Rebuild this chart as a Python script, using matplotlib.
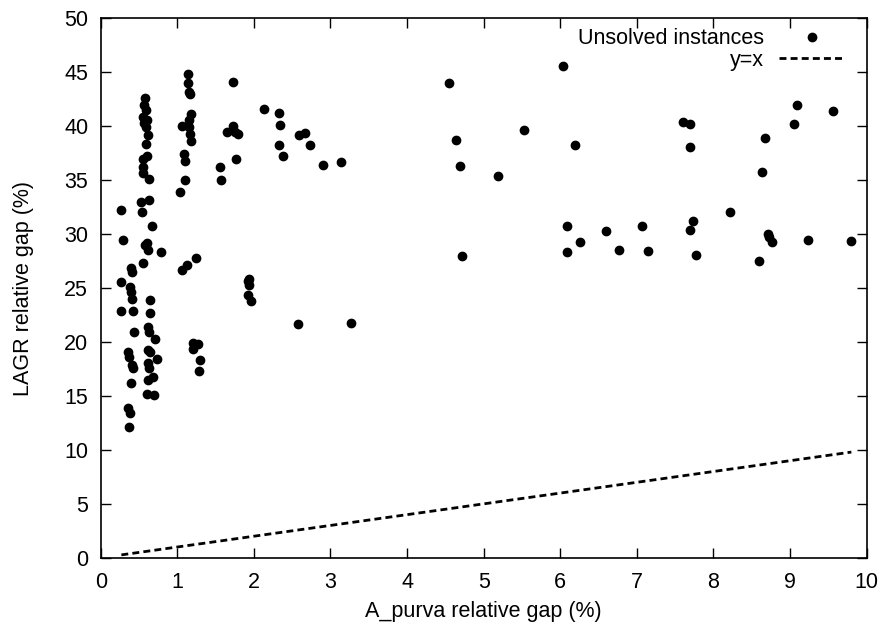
import matplotlib
matplotlib.use("Agg")
import matplotlib.pyplot as plt
import numpy as np

plt.rcParams['font.family'] = ['Liberation Sans', 'DejaVu Sans']

# unsolved instances: A_purva gap (x) vs LAGR gap (y), in %
apurva_gap = [
    0.27, 0.29, 0.27, 0.27, 0.40, 0.41, 0.38, 0.40, 0.41, 0.42,
    0.43, 0.36, 0.37, 0.41, 0.42, 0.40, 0.36, 0.38, 0.37,
    0.58, 0.57, 0.59, 0.55, 0.60, 0.57, 0.59, 0.62, 0.59, 0.55,
    0.60, 0.55, 0.55, 0.63, 0.53, 0.54, 0.63, 0.67, 0.60, 0.58,
    0.62, 0.55, 0.64, 0.64, 0.62, 0.63, 0.71, 0.62, 0.64, 0.73,
    0.62, 0.63, 0.68, 0.62, 0.60, 0.70, 0.79,
    1.14, 1.14, 1.15, 1.17, 1.18, 1.15, 1.06, 1.15, 1.17, 1.18,
    1.09, 1.10, 1.10, 1.04, 1.24, 1.13, 1.06, 1.20, 1.27, 1.20,
    1.30, 1.28,
    1.73, 1.65, 1.73, 1.75, 1.79, 1.77, 1.56, 1.57, 2.13, 1.94,
    1.92, 1.94, 1.92, 1.96,
    2.33, 2.34, 2.33, 2.38, 2.59, 2.67, 2.73, 2.90, 3.14, 2.58, 3.27,
    4.55, 6.04, 4.64, 5.53, 4.69, 6.19, 5.19, 4.72, 6.09, 6.26,
    6.09, 6.60, 6.77, 7.07, 7.15, 7.60, 7.69, 7.69, 7.73, 7.69,
    7.77, 8.22, 8.67, 8.63, 9.09, 9.05, 9.56, 8.71, 8.72, 8.76,
    8.59, 9.23, 9.80,
]
lagr_gap = [
    32.2, 29.5, 25.6, 22.9, 26.9, 26.5, 25.1, 24.6, 24.0, 22.9,
    20.9, 19.1, 18.6, 17.9, 17.6, 16.2, 13.9, 13.4, 12.1,
    42.6, 42.0, 41.5, 40.9, 40.6, 40.3, 39.9, 39.2, 38.4, 37.0,
    37.2, 36.2, 35.7, 35.1, 33.0, 32.1, 33.2, 30.8, 29.2, 29.0,
    28.5, 27.3, 23.9, 22.7, 21.4, 20.9, 20.3, 19.3, 19.1, 18.4,
    18.1, 17.6, 16.8, 16.5, 15.2, 15.1, 28.3,
    44.8, 44.0, 43.2, 43.0, 41.1, 40.6, 40.0, 39.9, 39.3, 38.6,
    37.4, 36.8, 35.0, 33.9, 27.8, 27.1, 26.7, 19.9, 19.8, 19.4,
    18.3, 17.3,
    44.1, 39.5, 40.0, 39.5, 39.3, 37.0, 36.2, 35.0, 41.6, 25.8,
    25.7, 25.3, 24.4, 23.8,
    41.2, 40.1, 38.3, 37.2, 39.2, 39.4, 38.3, 36.4, 36.7, 21.7, 21.8,
    44.0, 45.6, 38.7, 39.7, 36.3, 38.3, 35.4, 28.0, 30.8, 29.3,
    28.3, 30.3, 28.5, 30.8, 28.4, 40.4, 40.2, 38.1, 31.2, 30.4,
    28.1, 32.1, 38.9, 35.8, 42.0, 40.2, 41.4, 30.0, 29.7, 29.3,
    27.5, 29.5, 29.4,
]

fig = plt.figure(figsize=(8.84, 6.3), dpi=100)
ax = fig.add_axes([0.1139, 0.1146, 0.8665, 0.8562])

ax.plot(apurva_gap, lagr_gap, 'o', color='black', markersize=6,
        linestyle='none', label='Unsolved instances')

xs = np.array([min(apurva_gap), max(apurva_gap)])
ax.plot(xs, xs, color='black', linestyle=(0, (2.5, 1.5)), linewidth=2,
        label='y=x')

ax.set_xlim(0, 10)
ax.set_ylim(0, 50)
ax.set_xticks(range(0, 11))
ax.set_yticks(range(0, 51, 5))
ax.tick_params(direction='in', length=7, width=1, labelsize=15.5,
               top=True, right=True, colors='black')
ax.tick_params(axis='x', pad=10)
ax.tick_params(axis='y', pad=9)
for s in ax.spines.values():
    s.set_linewidth(1.2)

ax.set_xlabel('A_purva relative gap (%)', fontsize=15.5, labelpad=6)
ax.set_ylabel('LAGR relative gap (%)', fontsize=15.5, labelpad=22)

ax.legend(loc='upper right', bbox_to_anchor=(0.99, 1.01), frameon=False,
          markerfirst=False, fontsize=15.5, handlelength=3.0,
          handletextpad=0.7, labelspacing=0.02, borderaxespad=0.3)

fig.savefig('out.png', dpi=100)
